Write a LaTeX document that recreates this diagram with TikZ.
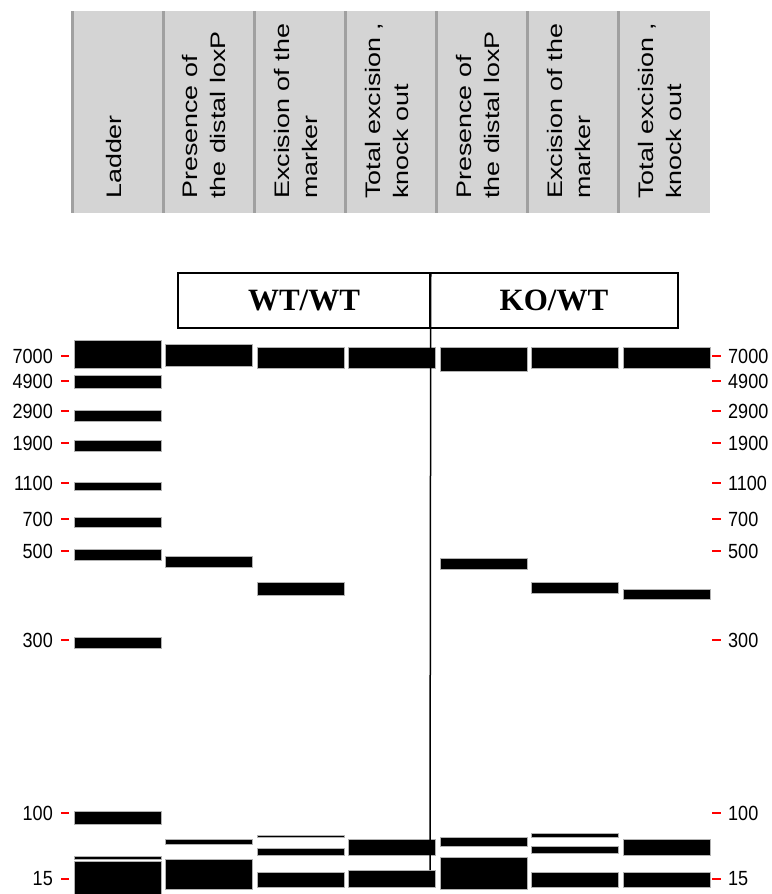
\documentclass[tikz,border=0pt]{standalone}
\usepackage{fontspec}
\setmainfont{Liberation Serif}
\newfontfamily\hdrfont[FakeStretch=1.28]{Liberation Sans}
\newfontfamily\numfont[FakeStretch=0.88]{Liberation Sans}
\usepackage{xcolor}
\usepackage{tikz}
\definecolor{hdrgray}{RGB}{212,212,212}
\definecolor{sepgray}{RGB}{160,160,160}
\tikzset{
    band/.style={rectangle, draw=gray!60, fill=black, line width=0.8pt, minimum width=87, inner sep=0},
    hdrtext/.style={rotate=90, anchor=west, align=left, inner sep=0, font=\hdrfont\fontsize{21}{28}\selectfont},
    size/.style={inner sep=0, font=\numfont\fontsize{20.5}{22}\selectfont},
    tick/.style={red, line width=2pt},
    group/.style={draw, rectangle, line width=1.5pt, minimum height=55, font=\bfseries\fontsize{31}{34}\selectfont}
}

\begin{document}
\begin{tikzpicture}[x=1pt, y=-1pt]
    \useasboundingbox (0,0) rectangle (771,894);

    % Header
    \fill [hdrgray] (72,11) rectangle (710,213);
    \foreach \xs in {72,163,254,345,436,527,618}
        \draw [sepgray, line width=3pt] (\xs,11) -- (\xs,213);
    \foreach \txt [count=\c] in {{Ladder}, {Presence of\\the distal loxP}, {Excision of the\\marker}, {Total excision ,\\knock out}, {Presence of\\the distal loxP}, {Excision of the\\marker}, {Total excision ,\\knock out}}
        \node [hdrtext] (head\c) at ({113.5+(\c-1)*91},199) {\txt};

    % Gel bands
    \foreach \ln/\ya/\yb [count=\i] in {1/340/368, 1/375/388, 1/410/421, 1/440/451, 1/482/490, 1/517/527, 1/549/560, 1/637/648, 1/811/824, 1/856/859, 1/861/896,
        2/344/366, 2/556/567, 2/839/844, 2/859/889,
        3/347/368, 3/582/595, 3/835/837, 3/848/855, 3/872/887,
        4/347/368, 4/839/855, 4/870/887,
        5/347/371, 5/558/569, 5/837/846, 5/857/889,
        6/347/368, 6/582/593, 6/833/837, 6/846/853, 6/872/887,
        7/347/368, 7/589/599, 7/839/855, 7/872/887}
        \node [band, minimum height=\yb-\ya] (band\i) at ({117.5+(\ln-1)*91.5},{(\ya+\yb)/2}) {};

    % Genotype boxes
    \node [group, minimum width=252] (wt) at (304,300.5) {WT/WT};
    \node [group, minimum width=248] (ko) at (554,300.5) {KO/WT};
    \coordinate (divend) at (430,870);
    \draw [line width=1.5pt] (wt.north east) -- (divend);

    % Size labels
    \foreach \val/\yy in {7000/356, 4900/381, 2900/411, 1900/443, 1100/483, 700/519, 500/551, 300/640, 100/813, 15/879} {
        \node [size, anchor=east] (left\val) at (53,\yy) {\val};
        \node [size, anchor=west] (right\val) at (728,\yy) {\val};
        \draw [tick] (61,\yy) -- (69,\yy);
        \draw [tick] (712,\yy) -- (721,\yy);
    }
\end{tikzpicture}
\end{document}
